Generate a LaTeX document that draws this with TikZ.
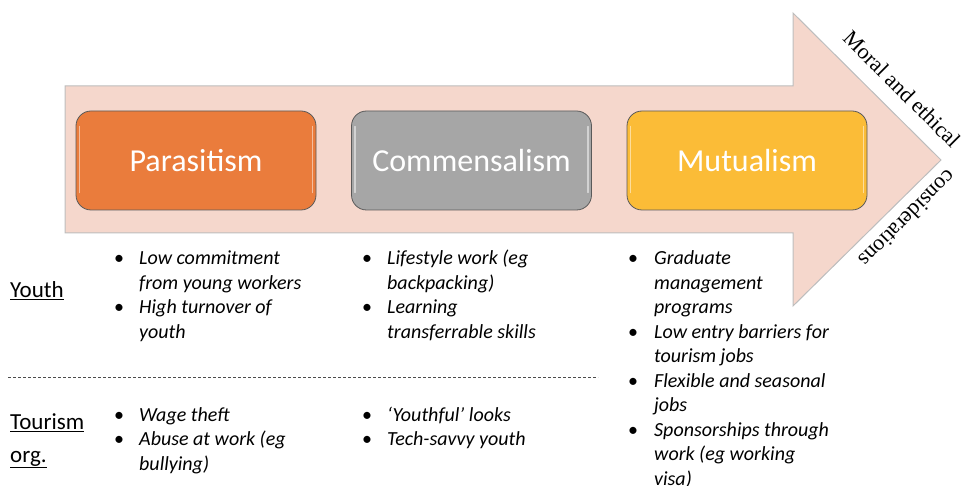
\documentclass[tikz,border=0pt]{standalone}
\usepackage{fontspec}
\setmainfont{Carlito}
\newfontfamily\serifmt{Liberation Serif}
\definecolor{arrowfill}{HTML}{F5D7CC}
\definecolor{arrowline}{HTML}{BDBDBD}
\definecolor{paraC}{HTML}{EA7C3C}
\definecolor{commC}{HTML}{A6A6A6}
\definecolor{mutuC}{HTML}{FBBC37}
\definecolor{boxline}{HTML}{5A5A5A}
\newcommand{\lines}[1]{\begin{tabular}[t]{@{}l@{}}#1\end{tabular}}
\tikzset{
  x=1pt, y=-1pt,
  stagebox/.style={draw=boxline, line width=0.8pt, rounded corners=15pt, minimum width=240pt, minimum height=99pt, inner sep=0pt, text=white, font=\fontsize{32}{36}\selectfont},
  bul/.style={anchor=base west, inner sep=0pt, font=\fontsize{20}{24.5}\selectfont},
  itemtxt/.style={anchor=base west, inner sep=0pt, font=\fontsize{20}{24.5}\selectfont\itshape},
  rowlabel/.style={anchor=base west, inner sep=0pt, font=\fontsize{23}{32}\selectfont},
  edgetxt/.style={inner sep=0pt, font=\serifmt\fontsize{22}{24}\selectfont},
  gloss/.style={white, opacity=0.5, line width=1.5pt, line cap=round}
}
\begin{document}
\begin{tikzpicture}
\useasboundingbox (0,0) rectangle (962,486);
% big arrow
\draw[fill=arrowfill, draw=arrowline, line width=1pt]
  (65,86) -- (793,86) -- (793,13) -- (941,160) -- (793,306) -- (793,233) -- (65,233) -- cycle;
% stage boxes
\node[stagebox, fill=paraC] (para) at (196,160.5) {Parasitism};
\node[stagebox, fill=commC] (comm) at (471.5,160.5) {Commensalism};
\node[stagebox, fill=mutuC] (mutu) at (747,160.5) {Mutualism};
\foreach \b in {para,comm,mutu}{
  \draw[gloss] ([xshift=4pt,yshift=-16pt]\b.north west) -- ([xshift=4pt,yshift=18pt]\b.south west);
  \draw[gloss] ([xshift=-4pt,yshift=-16pt]\b.north east) -- ([xshift=-4pt,yshift=18pt]\b.south east);
}
% edge texts
\node[edgetxt, rotate=-45] (moral) at (902,89) {Moral and ethical};
\node[edgetxt, rotate=225] (consid) at (908,219) {considerations};
% row labels
\node[rowlabel] (youth) at (10,298) {\underline{Youth}};
\node[rowlabel] (tour) at (10,430) {\underline{Tourism}};
\node[rowlabel] (org) at (10,462) {\underline{org.}};
% dashed separator
\coordinate (dl) at (8,377);
\coordinate (dr) at (598,377);
\draw[dashed, dash pattern=on 3pt off 2pt, draw=black!70, line width=0.6pt] (dl) -- (dr);
% column 1
\node[bul] (b11) at (114,265) {•};
\node[itemtxt] (t11) at (139,265) {\lines{Low commitment\\from young workers}};
\node[bul] (b12) at (114,314) {•};
\node[itemtxt] (t12) at (139,314) {\lines{High turnover of\\youth}};
\node[bul] (b13) at (114,422) {•};
\node[itemtxt] (t13) at (139,422) {Wage theft};
\node[bul] (b14) at (114,446) {•};
\node[itemtxt] (t14) at (139,446) {\lines{Abuse at work (eg\\bullying)}};
% column 2
\node[bul] (b21) at (362,265) {•};
\node[itemtxt] (t21) at (387,265) {\lines{Lifestyle work (eg\\backpacking)}};
\node[bul] (b22) at (362,314) {•};
\node[itemtxt] (t22) at (387,314) {\lines{Learning\\transferrable skills}};
\node[bul] (b23) at (362,422) {•};
\node[itemtxt] (t23) at (387,422) {‘Youthful’ looks};
\node[bul] (b24) at (362,446) {•};
\node[itemtxt] (t24) at (387,446) {Tech-savvy youth};
% column 3
\node[bul] (b31) at (628,265) {•};
\node[itemtxt] (t31) at (654,265) {\lines{Graduate\\management\\programs}};
\node[bul] (b32) at (628,338.5) {•};
\node[itemtxt] (t32) at (654,338.5) {\lines{Low entry barriers for\\tourism jobs}};
\node[bul] (b33) at (628,387.5) {•};
\node[itemtxt] (t33) at (654,387.5) {\lines{Flexible and seasonal\\jobs}};
\node[bul] (b34) at (628,436.5) {•};
\node[itemtxt] (t34) at (654,436.5) {\lines{Sponsorships through\\work (eg working\\visa)}};
\end{tikzpicture}
\end{document}
